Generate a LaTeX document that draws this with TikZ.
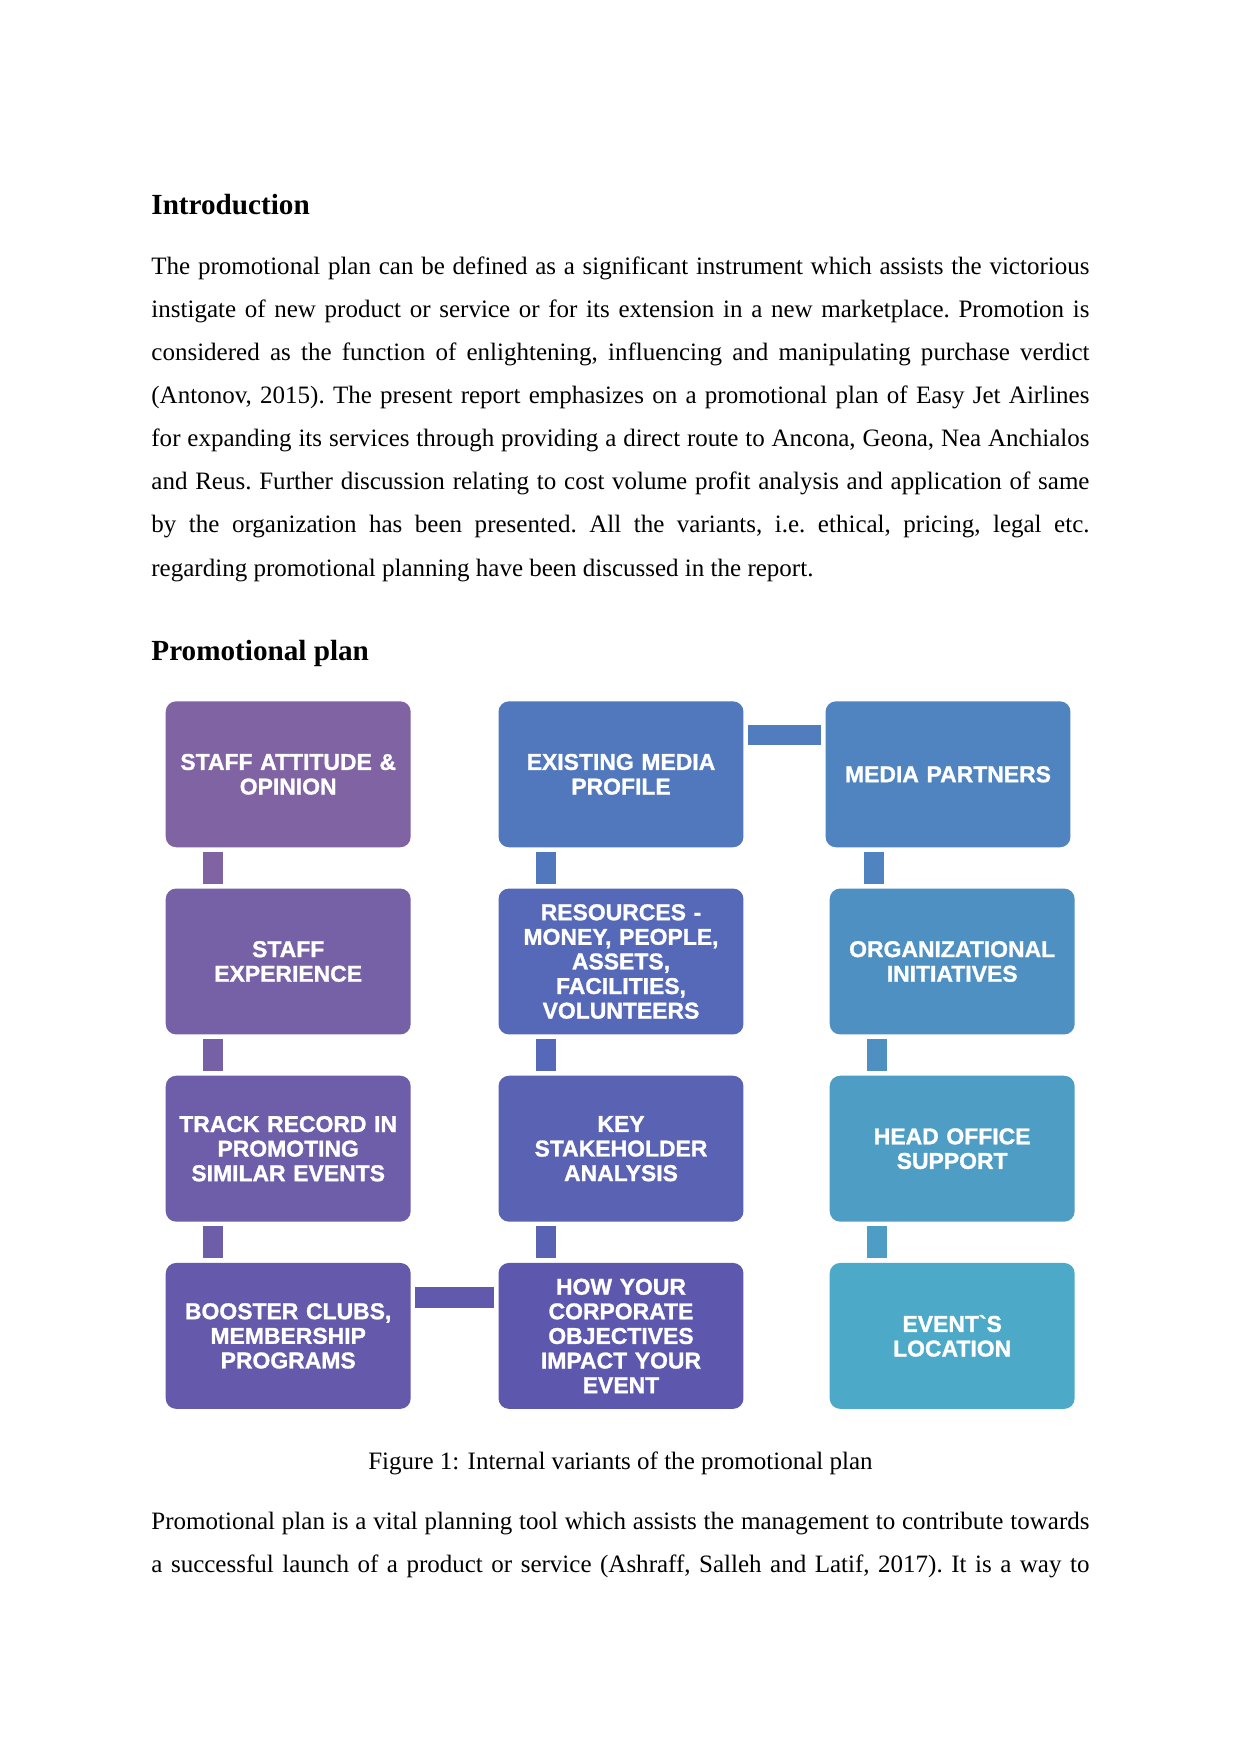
\documentclass[tikz,border=0pt]{standalone}
\usepackage{fontspec}
\setmainfont{Liberation Serif}
\newfontfamily\boxfont{Liberation Sans}[BoldFeatures={FakeBold=1.2}]
\usetikzlibrary{positioning}
\definecolor{staffA}{HTML}{7F63A3}
\definecolor{staffB}{HTML}{7761A6}
\definecolor{staffC}{HTML}{6E5DA8}
\definecolor{staffD}{HTML}{6459AA}
\definecolor{mediaA}{HTML}{5177BD}
\definecolor{mediaB}{HTML}{5569B8}
\definecolor{mediaC}{HTML}{5A62B3}
\definecolor{mediaD}{HTML}{5D58AE}
\definecolor{partnerA}{HTML}{5084C0}
\definecolor{partnerB}{HTML}{4E90C2}
\definecolor{partnerC}{HTML}{4D9DC5}
\definecolor{partnerD}{HTML}{4CAAC8}
\tikzset{
  plan/.style={rectangle,rounded corners=5pt,minimum width=117.5pt,minimum height=70pt,
    text width=112pt,align=center,inner sep=0pt,text=white,
    font=\boxfont\bfseries\fontsize{11}{11.8}\selectfont},
  link/.style={line width=9.8pt,shorten <=2pt,shorten >=2pt},
  para/.style={anchor=base west,text width=450pt,align=justify,inner sep=0pt,
    font=\fontsize{12}{20.7}\selectfont\frenchspacing},
  heading/.style={anchor=base west,inner sep=0pt,font=\bfseries\fontsize{14}{16}\selectfont}
}
\begin{document}
\begin{tikzpicture}[x=0.4797pt,y=-0.4797pt,node distance=19.4pt]
\fill[white] (0,0) rectangle (1241,1754);
\useasboundingbox (0,0) rectangle (1241,1754);
% page text
\node[heading] (intro) at (151,214.5) {Introduction};
\node[para] (introtext) at (151,274) {The promotional plan can be defined as a significant instrument which assists the victorious\linebreak
instigate of new product or service or for its extension in a new marketplace. Promotion is\linebreak
considered as the function of enlightening, influencing and manipulating purchase verdict\linebreak
(Antonov, 2015). The present report emphasizes on a promotional plan of Easy Jet Airlines\linebreak
for expanding its services through providing a direct route to Ancona, Geona, Nea Anchialos\linebreak
and Reus. Further discussion relating to cost volume profit analysis and application of same\linebreak
by the organization has been presented. All the variants, i.e. ethical, pricing, legal etc.\linebreak
regarding promotional planning have been discussed in the report.};
\node[heading] (planhead) at (151,660.5) {Promotional plan};
% left column
\node[plan,fill=staffA] (staff1) at (288.2,774.3) {STAFF ATTITUDE \&\\OPINION};
\node[plan,fill=staffB,below=of staff1] (staff2) {STAFF\\EXPERIENCE};
\node[plan,fill=staffC,below=of staff2] (staff3) {TRACK RECORD IN\\PROMOTING\\SIMILAR EVENTS};
\node[plan,fill=staffD,below=of staff3] (staff4) {BOOSTER CLUBS,\\MEMBERSHIP\\PROGRAMS};
% middle column
\node[plan,fill=mediaA] (media1) at (621,774.3) {EXISTING MEDIA\\PROFILE};
\node[plan,fill=mediaB,below=of media1] (media2) {RESOURCES -\\MONEY, PEOPLE,\\ASSETS,\\FACILITIES,\\VOLUNTEERS};
\node[plan,fill=mediaC,below=of media2] (media3) {KEY\\STAKEHOLDER\\ANALYSIS};
\node[plan,fill=mediaD,below=of media3] (media4) {HOW YOUR\\CORPORATE\\OBJECTIVES\\IMPACT YOUR\\EVENT};
% right column
\node[plan,fill=partnerA] (partner1) at (948,774.3) {MEDIA PARTNERS};
\node[plan,fill=partnerB,below=of partner1,xshift=2pt] (partner2) {ORGANIZATIONAL\\INITIATIVES};
\node[plan,fill=partnerC,below=of partner2] (partner3) {HEAD OFFICE\\SUPPORT};
\node[plan,fill=partnerD,below=of partner3] (partner4) {EVENT\textasciigrave S\\LOCATION};
% bars
\draw[link,draw=staffA] ([xshift=23pt]staff1.south west) -- ([xshift=23pt]staff2.north west); \draw[link,draw=staffB] ([xshift=23pt]staff2.south west) -- ([xshift=23pt]staff3.north west); \draw[link,draw=staffC] ([xshift=23pt]staff3.south west) -- ([xshift=23pt]staff4.north west);
\draw[link,draw=mediaA] ([xshift=23pt]media1.south west) -- ([xshift=23pt]media2.north west); \draw[link,draw=mediaB] ([xshift=23pt]media2.south west) -- ([xshift=23pt]media3.north west); \draw[link,draw=mediaC] ([xshift=23pt]media3.south west) -- ([xshift=23pt]media4.north west);
\draw[link,draw=partnerA] ([xshift=23.5pt]partner1.south west) -- ([xshift=21.5pt]partner2.north west); \draw[link,draw=partnerB] ([xshift=23pt]partner2.south west) -- ([xshift=23pt]partner3.north west); \draw[link,draw=partnerC] ([xshift=23pt]partner3.south west) -- ([xshift=23pt]partner4.north west);
\draw[link,draw=mediaA!60!partnerA] ([yshift=-16.3pt]media1.north east) -- ([yshift=-16.3pt]partner1.north west);
\draw[link,draw=staffD!60!mediaD] ([yshift=-16.8pt]staff4.north east) -- ([yshift=-16.8pt]media4.north west);
% caption and next paragraph
\node[anchor=base,inner sep=0pt,font=\fontsize{12}{14}\selectfont] (caption) at (620.5,1469.5) {Figure 1: Internal variants of the promotional plan};
\node[para] (plantext) at (151,1529.5) {Promotional plan is a vital planning tool which assists the management to contribute towards\linebreak
a successful launch of a product or service (Ashraff, Salleh and Latif, 2017). It is a way to\parfillskip=0pt\par};
\end{tikzpicture}
\end{document}
